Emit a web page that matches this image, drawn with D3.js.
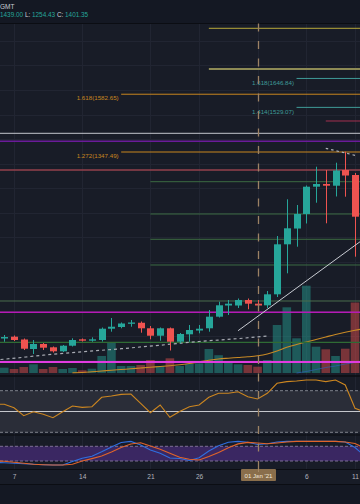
<!DOCTYPE html>
<html><head><meta charset="utf-8">
<script src="https://cdn.jsdelivr.net/npm/d3@7"></script>
<style>
html,body{margin:0;padding:0;background:#181c27;overflow:hidden;}
svg{display:block;}
text{font-family:"Liberation Sans",Arial,sans-serif;}
</style></head><body>
<svg id="c" width="360" height="504"></svg>
<script>
// ---------------- DATA ----------------
const dates = ["2020-12-05","2020-12-06","2020-12-07","2020-12-08","2020-12-09","2020-12-10","2020-12-11","2020-12-12","2020-12-13","2020-12-14","2020-12-15","2020-12-16","2020-12-17","2020-12-18","2020-12-19","2020-12-20","2020-12-21","2020-12-22","2020-12-23","2020-12-24","2020-12-25","2020-12-26","2020-12-27","2020-12-28","2020-12-29","2020-12-30","2020-12-31","2021-01-01","2021-01-02","2021-01-03","2021-01-04","2021-01-05","2021-01-06","2021-01-07","2021-01-08","2021-01-09","2021-01-10","2021-01-11","2021-01-12"];
const opens  = [null,588.4,595.8,584.4,545.7,566.1,552.6,536.3,559.1,585.1,579.4,582.3,628.3,635.2,648.2,652.5,630,599.8,630,575.4,605.5,620.9,630,677.2,722.7,722.7,745.1,730.1,723.5,768.3,971.8,1036,1095.2,1206.3,1217.3,1210.3,1274.2,1253.9,null];
const highs  = [null,602.7,600.6,588.4,582.3,570.1,555.9,562,589.2,588.4,593.2,633.2,671.9,653.6,663.7,657.6,639.3,633.2,633.2,610.8,643.4,643.4,704.4,738.2,745.1,751.2,751.2,745.1,781.8,1005.6,1155,1131.8,1211.2,1287.7,1274.2,1303.9,1348.7,1262,null];
const lows   = [null,575.4,578.2,541.6,525.4,541.6,531.3,533.5,555.9,576.2,575.4,576.2,616.1,630,636.4,612,585.1,579.4,539.6,568.1,575.4,609.6,616.1,673.9,684.1,712.6,707.3,704.4,712.6,757.3,853.8,962,1056.5,1141.1,1057.3,1166.4,1165.6,921.4,null];
const closes = [null,594.5,582.3,546.9,566.1,551,536.3,559.1,582.3,579.4,585.1,628.3,636.4,649.5,653.6,630,599.8,630,575.4,606.8,623,628.3,677.2,723.6,730.1,745.1,730.1,722.7,768.3,971.8,1037,1095.2,1206.3,1217.3,1210.3,1272.2,1251.8,1084.2,null];
const volumes = [null,530,400,600,870,400,600,400,500,270,430,1700,3050,700,700,800,1300,700,1470,700,900,970,2400,1780,1050,870,800,630,1300,4800,6570,3470,8730,2630,2370,1700,2430,7050,null];
const volMA   = [null,null,null,null,null,null,null,null,30,50,120,200,280,350,420,500,580,650,730,820,950,1110,1270,1400,1480,1550,1620,1720,1900,2200,2570,2850,3100,3350,3600,3850,4070,4270,4450];
const volMA2  = [null,null,null,null,null,null,null,null,null,null,null,null,null,null,null,null,null,null,null,null,null,null,null,null,null,null,null,null,null,null,null,0,150,350,550,700,900,1050,1200];
const rsi    = [57,56.9,53.6,46,49.8,47.3,44,49.8,55.3,54,54.6,63.7,64.9,66.5,66.8,57.9,48.8,56.3,44.4,50,54.6,56.3,63.7,67.5,67.5,69,64.2,62,67.5,77.1,78.7,79.3,80.3,80.3,78.7,80.3,75.5,53.1,49.5];
const stochK = [13.9,12.7,10.6,8.6,6.6,4.9,3.7,3.7,18,31,39.2,57.6,77.1,95.5,100,85.3,64.9,51.8,32.3,30.2,22.1,33.5,60.8,82,96.3,100,96.7,87.3,90.2,97.5,100,100,100,100,100,100,97.5,75.1,40.4];
const stochD = [20.8,18.8,14.7,10.6,6.6,4.9,3.7,3.7,7,20,29.8,40.4,56.7,75.1,89.4,94.7,81.2,68.2,51.8,35.5,27.4,24.1,38,54.7,73.9,89.8,95.9,93.5,90.2,93.5,97.5,100,100,100,100,100,97.5,91.4,73];

// horizontal drawing levels (price, start date or null = full width, label)
const levelPrices = [1850.9,1685.3,1646.84,1582.65,1529.07,1473.7,1423.6,1391.0,1347.49,1274.2,1226.6,1095.2,992.2,887.6,741.1,695.1,572.9,492.8];
const levelStarts = ["2020-12-27","2020-12-27","2021-01-05","2020-12-18","2021-01-05","2021-01-08",null,null,"2020-12-18",null,"2020-12-21","2020-12-21","2020-12-21","2020-12-21",null,null,null,null];
const levelLabels = [null,null,"1.618(1646.84)","1.618(1582.65)","1.414(1529.07)",null,null,null,"1.272(1347.49)",null,null,null,null,null,null,null,null,null];

// trend drawings
const trendDates  = ["2020-12-30","2021-01-12"];
const trendPrices = [620.2,996.3];
const dashDates   = ["2021-01-08","2021-01-11T04"];
const dashPrices  = [1362.5,1332.4];
const curveDates  = ["2020-12-05","2020-12-06","2020-12-10","2020-12-14","2020-12-18","2020-12-22","2020-12-26","2020-12-30","2021-01-02"];
const curvePrices = [500.9,504.2,520.5,534.3,546.9,561.2,576.2,588,598.6];

const tickDates  = ["2020-12-07","2020-12-14","2020-12-21","2020-12-26","2021-01-06","2021-01-11"];
const tickLabels = ["7","14","21","26","6","11"];
const crossDate  = "2021-01-01";
const crossLabel = "01 Jan '21";
const headerLabels = ["", " L: ", " C: "];
const headerValues = ["1439.00","1254.43","1401.35"];

// ---------------- STYLES ----------------
const levelColors = ["#b8a83a","#8d8a55","#3f9b98","#c8861f","#3f9b98","#a3304f","#c3c6cd","#6a1b9a","#c8861f","#93404c","#3c6b42","#3c6b42","#3c6b42","#3c6b42","#4a6d4c","#b51ab5","#2f6b34","#e03be0"];
const levelWidths = [1,2,1,1,1,1,1,1.6,1,1.5,1,1,1,1,1,1.5,1.3,2];
const UP = "#26a69a", DN = "#ef5350";

// ---------------- DRAW ----------------
const parse = s => s.length > 10 ? d3.utcParse("%Y-%m-%dT%H")(s) : d3.utcParse("%Y-%m-%d")(s);
const days = dates.map(parse);
const W = 360;
const svg = d3.select("#c");

const x = d3.scaleUtc().domain([parse("2020-12-07"), parse("2021-01-11")]).range([14, 355]);
const y = d3.scaleLinear().domain([435.81, 1872.52]).range([376, 23]);
const yv = d3.scaleLinear().domain([0, 10000]).range([373, 273]);
const yr = d3.scaleLinear().domain([30, 70]).range([432.3, 390.7]);
const ys = d3.scaleLinear().domain([20, 80]).range([461, 446.3]);

// backgrounds
svg.append("rect").attr("width", W).attr("height", 504).attr("fill", "#181c27");
svg.append("rect").attr("width", W).attr("height", 23).attr("fill", "#141823");
svg.append("rect").attr("y", 484).attr("width", W).attr("height", 20).attr("fill", "#141823");

const defs = svg.append("defs");
defs.append("clipPath").attr("id", "main").append("rect").attr("x", 0).attr("y", 23.5).attr("width", W).attr("height", 352);
defs.append("clipPath").attr("id", "rsi").append("rect").attr("x", 0).attr("y", 377).attr("width", W).attr("height", 57);
defs.append("clipPath").attr("id", "sto").append("rect").attr("x", 0).attr("y", 436).attr("width", W).attr("height", 33);

// grid
const gridG = svg.append("g");
const priceTicks = d3.range(500, 1900, 100);
gridG.selectAll("line.h").data(priceTicks).join("line")
  .attr("x1", 0).attr("x2", W).attr("y1", d => Math.round(y(d)) + 0.5).attr("y2", d => Math.round(y(d)) + 0.5)
  .attr("stroke", "#212532").attr("stroke-width", 1);
const gridDates = tickDates.concat([crossDate]).map(parse);
gridG.selectAll("line.v").data(gridDates).join("line")
  .attr("x1", d => Math.round(x(d)) + 0.5).attr("x2", d => Math.round(x(d)) + 0.5)
  .attr("y1", 23).attr("y2", 469).attr("stroke", "#212532").attr("stroke-width", 1);

// main pane
const main = svg.append("g").attr("clip-path", "url(#main)");
const idx = d3.range(dates.length);

// volume
main.append("g").selectAll("rect").data(idx.filter(i => volumes[i] != null)).join("rect")
  .attr("x", i => x(days[i]) - 4.3).attr("width", 8.6)
  .attr("y", i => yv(volumes[i])).attr("height", i => yv(0) - yv(volumes[i]))
  .attr("fill", i => closes[i] >= opens[i] ? UP : DN).attr("fill-opacity", 0.45);

const vline = arr => d3.line().defined(i => arr[i] != null).x(i => x(days[i])).y(i => yv(arr[i])).curve(d3.curveMonotoneX);
main.append("path").datum(idx).attr("d", vline(volMA)).attr("fill", "none").attr("stroke", "#c98a25").attr("stroke-width", 1.1);
main.append("path").datum(idx).attr("d", vline(volMA2)).attr("fill", "none").attr("stroke", "#2d5fb3").attr("stroke-opacity", 0.7).attr("stroke-width", 1);

// levels
const lv = main.append("g");
levelPrices.forEach((p, i) => {
  const x1 = levelStarts[i] ? x(parse(levelStarts[i])) : 0;
  const yy = y(p);
  lv.append("line").attr("x1", x1).attr("x2", W).attr("y1", yy).attr("y2", yy)
    .attr("stroke", levelColors[i]).attr("stroke-width", levelWidths[i]);
  if (levelLabels[i]) {
    lv.append("text").attr("x", x1 - 2.5).attr("y", yy + 6.2).attr("text-anchor", "end")
      .attr("font-size", 6.2).attr("fill", levelColors[i]).text(levelLabels[i]);
  }
});

// dashed curve
main.append("path").datum(curveDates.map((d, i) => [parse(d), curvePrices[i]]))
  .attr("d", d3.line().x(d => x(d[0])).y(d => y(d[1])).curve(d3.curveMonotoneX))
  .attr("fill", "none").attr("stroke", "#a9acb4").attr("stroke-width", 1.2).attr("stroke-dasharray", "3,3");

// candles
const cg = main.append("g");
const cidx = idx.filter(i => opens[i] != null);
cg.selectAll("line").data(cidx).join("line")
  .attr("x1", i => Math.round(x(days[i])) + 0.5).attr("x2", i => Math.round(x(days[i])) + 0.5)
  .attr("y1", i => y(highs[i])).attr("y2", i => y(lows[i]))
  .attr("stroke", i => closes[i] >= opens[i] ? UP : DN).attr("stroke-width", 1);
cg.selectAll("rect").data(cidx).join("rect")
  .attr("x", i => Math.round(x(days[i])) + 0.5 - 3.5).attr("width", 7)
  .attr("y", i => y(Math.max(opens[i], closes[i])))
  .attr("height", i => Math.max(1.2, Math.abs(y(opens[i]) - y(closes[i]))))
  .attr("fill", i => closes[i] >= opens[i] ? UP : DN);

// trend line and dashed short line
main.append("line")
  .attr("x1", x(parse(trendDates[0]))).attr("y1", y(trendPrices[0]))
  .attr("x2", x(parse(trendDates[1]))).attr("y2", y(trendPrices[1]))
  .attr("stroke", "#c9ccd3").attr("stroke-width", 1);
main.append("line")
  .attr("x1", x(parse(dashDates[0]))).attr("y1", y(dashPrices[0]))
  .attr("x2", x(parse(dashDates[1]))).attr("y2", y(dashPrices[1]))
  .attr("stroke", "#b0b3ba").attr("stroke-width", 1.2).attr("stroke-dasharray", "2.5,3");

// RSI pane
const rg = svg.append("g").attr("clip-path", "url(#rsi)");
rg.append("rect").attr("x", 0).attr("width", W).attr("y", yr(70)).attr("height", yr(30) - yr(70)).attr("fill", "#2a2d38");
[70, 30].forEach(v => rg.append("line").attr("x1", 0).attr("x2", W).attr("y1", yr(v)).attr("y2", yr(v))
  .attr("stroke", "#7d808a").attr("stroke-width", 1).attr("stroke-dasharray", "3,2"));
rg.append("line").attr("x1", 0).attr("x2", W).attr("y1", yr(50)).attr("y2", yr(50)).attr("stroke", "#c5c7cc").attr("stroke-width", 1.2);
rg.append("path").datum(idx).attr("d", d3.line().x(i => x(days[i])).y(i => yr(rsi[i])))
  .attr("fill", "none").attr("stroke", "#cc8620").attr("stroke-width", 1.1);

// Stoch RSI pane
const sg = svg.append("g").attr("clip-path", "url(#sto)");
sg.append("rect").attr("x", 0).attr("width", W).attr("y", ys(80)).attr("height", ys(20) - ys(80)).attr("fill", "#3a2762");
[80, 20].forEach(v => sg.append("line").attr("x1", 0).attr("x2", W).attr("y1", ys(v)).attr("y2", ys(v))
  .attr("stroke", "#7d6f95").attr("stroke-width", 1).attr("stroke-dasharray", "3,2"));
sg.append("path").datum(idx).attr("d", d3.line().x(i => x(days[i])).y(i => ys(stochK[i])))
  .attr("fill", "none").attr("stroke", "#2f6fe0").attr("stroke-width", 1.1);
sg.append("path").datum(idx).attr("d", d3.line().x(i => x(days[i])).y(i => ys(stochD[i])))
  .attr("fill", "none").attr("stroke", "#e0642a").attr("stroke-width", 1.1);

// separators
[[376, 1.5], [435, 1.2], [469.5, 1], [484.5, 1], [23.5, 1]].forEach(([yy, w]) =>
  svg.append("line").attr("x1", 0).attr("x2", W).attr("y1", yy).attr("y2", yy).attr("stroke", "#0b0d13").attr("stroke-width", w));

// time axis
const axis = d3.axisBottom(x).tickValues(tickDates.map(parse)).tickFormat((d, i) => tickLabels[i]).tickSize(0).tickPadding(0);
const ax = svg.append("g").attr("transform", "translate(0,474)").call(axis);
ax.select(".domain").remove();
ax.selectAll("text").attr("font-size", 6.6).attr("fill", "#b2b5be").attr("font-family", "Liberation Sans, Arial, sans-serif").attr("dy", "0.71em");

// crosshair
const cx = Math.round(x(parse(crossDate))) + 0.5;
svg.append("line").attr("x1", cx).attr("x2", cx).attr("y1", 23.5).attr("y2", 469)
  .attr("stroke", "#9c8264").attr("stroke-width", 1.3).attr("stroke-dasharray", "8,9.5");
svg.append("rect").attr("x", cx - 17.5).attr("y", 469).attr("width", 35).attr("height", 12).attr("rx", 1).attr("fill", "#8a6e4b");
svg.append("text").attr("x", cx).attr("y", 477.5).attr("text-anchor", "middle").attr("font-size", 6.1).attr("fill", "#f2e9dc").text(crossLabel);
svg.append("line").attr("x1", cx).attr("x2", cx).attr("y1", 469).attr("y2", 481)
  .attr("stroke", "#b89a74").attr("stroke-width", 1).attr("stroke-dasharray", "3,3").attr("stroke-opacity", 0.6);

// header
svg.append("text").attr("x", 0).attr("y", 8.6).attr("font-size", 6.5).attr("fill", "#c9ccd3").text("GMT");
const ht = svg.append("text").attr("x", 0).attr("y", 17.4).attr("font-size", 6.4);
headerValues.forEach((v, i) => {
  if (headerLabels[i]) ht.append("tspan").attr("fill", "#d1d4dc").text(headerLabels[i]);
  ht.append("tspan").attr("fill", "#26a69a").text(v);
});
</script>
</body></html>
